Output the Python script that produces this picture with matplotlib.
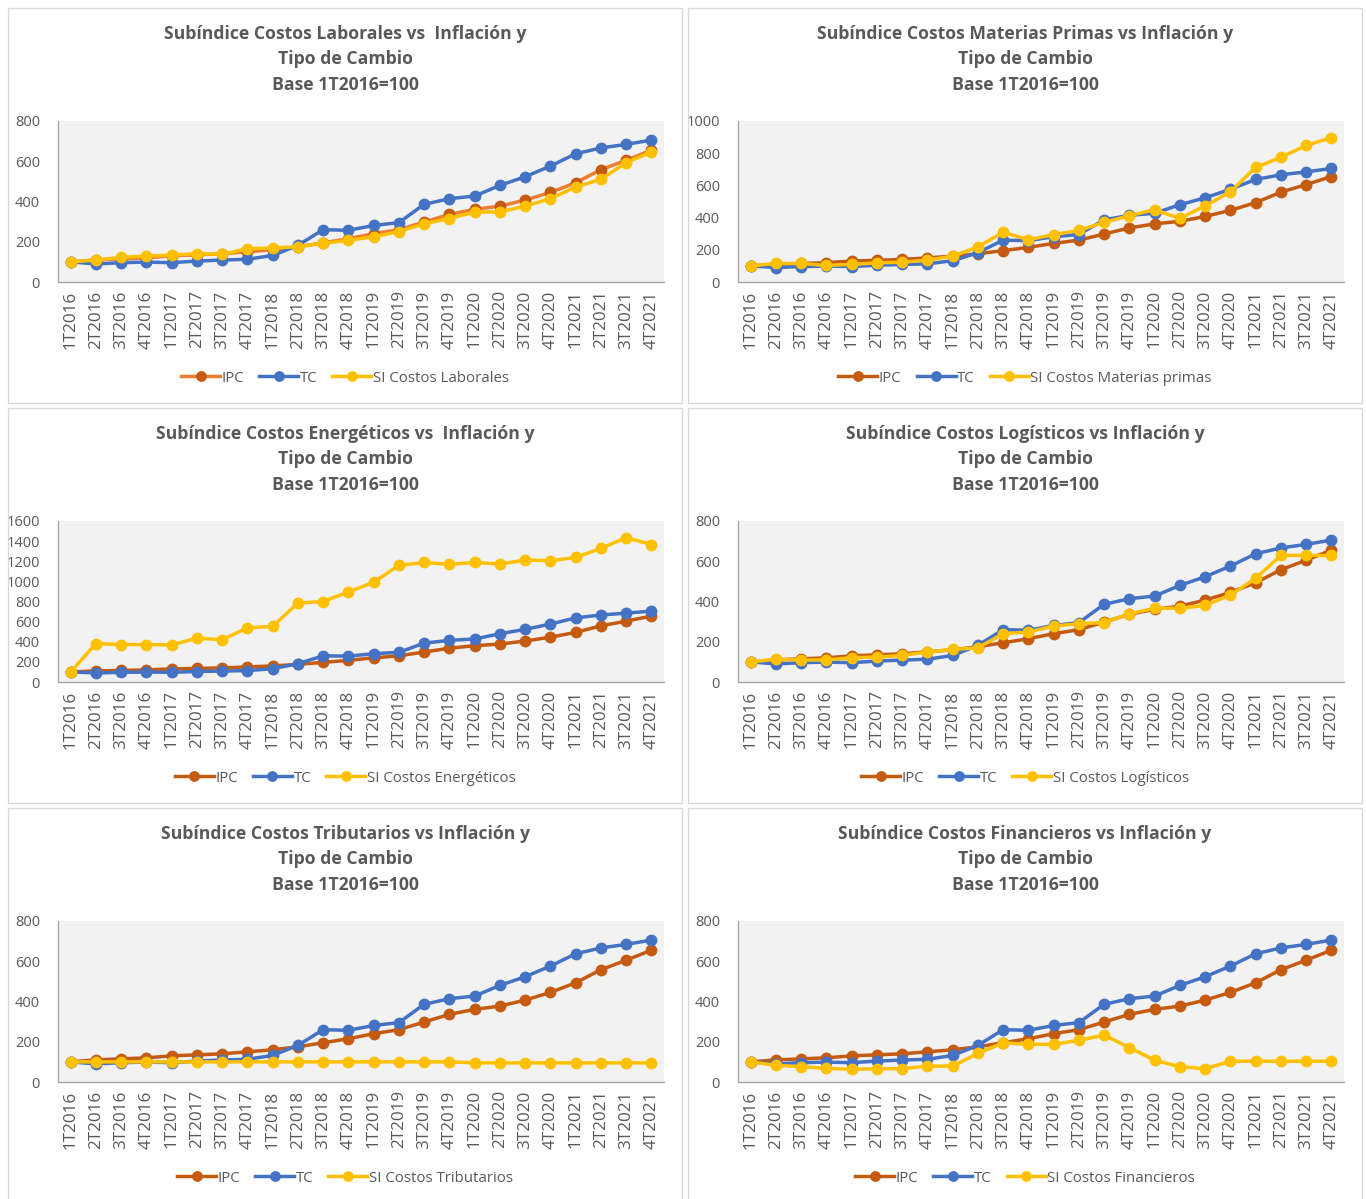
import numpy as np
import matplotlib.pyplot as plt
from matplotlib.patches import Rectangle

quarters = [f"{q}T{y}" for y in range(2016, 2022) for q in range(1, 5)]

ipc = [100, 110, 115, 120, 130, 135, 140, 150, 160, 175, 195, 215,
       240, 260, 298, 336, 361, 377, 407, 445, 493, 558, 605, 655]
tc = [100, 90, 96, 99, 96, 104, 109, 113, 132, 182, 260, 257,
      281, 295, 386, 414, 427, 480, 523, 576, 637, 666, 684, 705]

si_laborales = [100, 109, 122, 129, 134, 141, 137, 166, 169, 175, 192, 207,
                225, 250, 290, 315, 348, 348, 377, 414, 472, 510, 593, 646]
si_materias = [100, 115, 115, 103, 109, 119, 123, 136, 160, 218, 309, 263,
               294, 321, 370, 412, 449, 395, 473, 560, 712, 774, 848, 897]
si_energeticos = [99, 382, 372, 372, 369, 435, 421, 537, 553, 784, 800, 895,
                  991, 1159, 1188, 1169, 1188, 1172, 1212, 1205, 1238, 1327, 1435, 1366]
si_logisticos = [100, 113, 109, 110, 121, 124, 132, 149, 162, 170, 240, 248,
                 278, 290, 295, 339, 366, 366, 381, 432, 515, 629, 629, 629]
si_tributarios = [100, 100, 100, 100, 100, 100, 100, 100, 100, 100, 100, 100,
                  100, 100, 100, 100, 95, 95, 95, 95, 95, 95, 95, 95]
si_financieros = [100, 83, 76, 68, 63, 66, 66, 79, 79, 142, 195, 187,
                  187, 207, 233, 171, 108, 76, 66, 103, 103, 103, 103, 103]

panels = [
    ("Subíndice Costos Laborales vs  Inflación y", "SI Costos Laborales", si_laborales, 800),
    ("Subíndice Costos Materias Primas vs Inflación y", "SI Costos Materias primas", si_materias, 1000),
    ("Subíndice Costos Energéticos vs  Inflación y", "SI Costos Energéticos", si_energeticos, 1600),
    ("Subíndice Costos Logísticos vs Inflación y", "SI Costos Logísticos", si_logisticos, 800),
    ("Subíndice Costos Tributarios vs Inflación y", "SI Costos Tributarios", si_tributarios, 800),
    ("Subíndice Costos Financieros vs Inflación y", "SI Costos Financieros", si_financieros, 800),
]

W, H = 1366, 1199
plt.rcParams['font.family'] = ['Open Sans', 'DejaVu Sans']
fig = plt.figure(figsize=(W / 100, H / 100), dpi=100)

def fx(x):
    return x / W

def fy(y):
    return 1 - y / H

TXT = '#595959'
C_IPC = '#C55A11'
C_TC = '#4472C4'
C_SI = '#FFC000'

for i, (title, lab, si, ymax) in enumerate(panels):
    r, c = divmod(i, 2)
    px0 = 8 + c * 680
    py0 = 8 + r * 400
    # panel border
    fig.patches.append(Rectangle((fx(px0), fy(py0 + 395)), 674 / W, 395 / H,
                                 transform=fig.transFigure, fill=False,
                                 edgecolor='#D9D9D9', lw=1))
    cx = px0 + 337
    for k, line in enumerate([title, "Tipo de Cambio", "Base 1T2016=100"]):
        fig.text(fx(cx), fy(py0 + 26 + k * 25.5), line, ha='center', va='center',
                 fontsize=12.7, fontweight='bold', color=TXT)

    ax_l = px0 + 50
    ax_t = py0 + 113
    ax = fig.add_axes([fx(ax_l), fy(ax_t + 161), 606 / W, 161 / H])
    ax.set_facecolor('#F2F2F2')
    x = np.arange(len(quarters))
    ipc_line = '#ED7D31' if i == 0 else C_IPC
    ax.plot(x, ipc, color=ipc_line, mfc=C_IPC, mec=C_IPC, lw=2.5, marker='o',
            ms=7.5, label='IPC')
    ax.plot(x, tc, color=C_TC, lw=2.5, marker='o', ms=7.5, label='TC')
    ax.plot(x, si, color=C_SI, lw=2.5, marker='o', ms=7.5, label=lab)
    ax.set_xlim(-0.5, len(quarters) - 0.5)
    ax.set_ylim(0, ymax)
    ax.set_yticks(np.arange(0, ymax + 1, 200))
    ax.set_xticks(x)
    ax.set_xticklabels(quarters, rotation=90, fontsize=12.3, color=TXT)
    ax.tick_params(axis='y', labelsize=10.5, labelcolor=TXT, length=0, pad=13)
    ax.tick_params(axis='x', length=0, pad=6)
    for s in ['top', 'right']:
        ax.spines[s].set_visible(False)
    for s in ['left', 'bottom']:
        ax.spines[s].set_color('#A6A6A6')
        ax.spines[s].set_linewidth(1)
    leg = ax.legend(loc='center', bbox_to_anchor=(fx(cx), fy(py0 + 370)),
                    bbox_transform=fig.transFigure, ncol=3, frameon=False,
                    fontsize=10.8, handlelength=2.6, columnspacing=1.0,
                    handletextpad=0.1, markerscale=0.9)
    for t in leg.get_texts():
        t.set_color(TXT)

fig.savefig('out.png', dpi=100)
